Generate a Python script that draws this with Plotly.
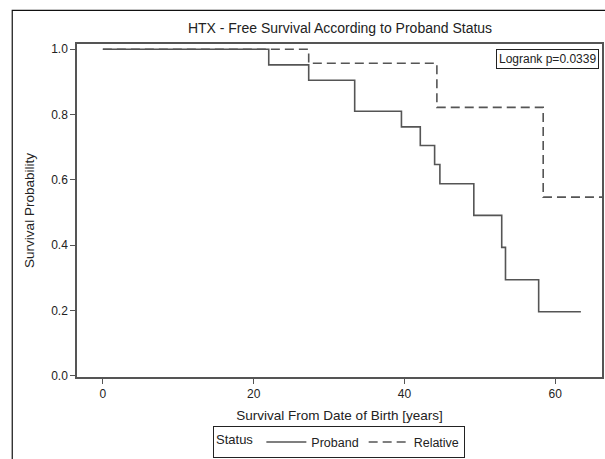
import plotly.graph_objects as go

# Kaplan-Meier step estimates (time in years, survival probability)
proband_time = [0, 22.0, 27.3, 33.4, 39.6, 42.1, 44.0, 44.7, 49.2, 52.9, 53.4, 57.8, 63.4]
proband_surv = [1.0, 0.952, 0.905, 0.810, 0.762, 0.705, 0.647, 0.588, 0.491, 0.393, 0.294, 0.196, 0.196]

relative_time = [0, 27.3, 44.3, 58.4, 66.2]
relative_surv = [1.0, 0.957, 0.822, 0.547, 0.547]

title_text = "HTX - Free Survival According to Proband Status"
x_title = "Survival From Date of Birth [years]"
y_title = "Survival Probability"
x_ticks = [0, 20, 40, 60]
y_ticks = [0.0, 0.2, 0.4, 0.6, 0.8, 1.0]
logrank_text = "Logrank p=0.0339"

FONT = "Liberation Sans, Arial, sans-serif"
TXT = "#222222"
LINE = "#555555"

fig = go.Figure()
fig.add_trace(go.Scatter(
    x=proband_time, y=proband_surv, mode="lines", name="Proband",
    line=dict(shape="hv", color=LINE, width=1.6),
))
fig.add_trace(go.Scatter(
    x=relative_time, y=relative_surv, mode="lines", name="Relative",
    line=dict(shape="hv", color=LINE, width=1.6, dash="9px,5px"),
))

W, H = 605, 459
L, R, T, B = 77, 1, 44, 78
pw, ph = W - L - R, H - T - B

def px_to_paper_x(px):
    return (px - L) / pw

def px_to_paper_y(py):
    return (H - B - py) / ph

fig.update_layout(
    width=W, height=H,
    margin=dict(l=L, r=R, t=T, b=B, pad=0),
    paper_bgcolor="white", plot_bgcolor="white",
    font=dict(family=FONT, color=TXT, size=12),
    title=dict(text=title_text, x=340 / W, xanchor="center",
               y=1 - 28 / H, yanchor="middle", font=dict(size=14, color=TXT)),
    xaxis=dict(
        range=[-3.43, 66.2], tickvals=x_ticks, ticks="outside", ticklen=5,
        tickcolor=LINE, showline=True, linecolor=LINE, linewidth=1.5, mirror=True,
        showgrid=False, zeroline=False,
        title=dict(text=x_title, font=dict(size=13.5), standoff=10),
        tickfont=dict(size=12),
    ),
    yaxis=dict(
        range=[-0.004, 1.016], tickvals=y_ticks, tickformat=".1f", ticks="outside", ticklen=5,
        tickcolor=LINE, showline=True, linecolor=LINE, linewidth=1.5, mirror=True,
        showgrid=False, zeroline=False,
        title=dict(text=y_title, font=dict(size=13.5), standoff=13),
        tickfont=dict(size=12),
    ),
    legend=dict(
        orientation="h", x=px_to_paper_x(340), xanchor="center",
        y=px_to_paper_y(431), yanchor="top",
        title=dict(text="Status", font=dict(size=13)),
        bordercolor="#222222", borderwidth=1, font=dict(size=12.5),
        itemwidth=40, tracegroupgap=0,
    ),
    showlegend=True,
)

# Inset log-rank annotation
fig.add_annotation(
    text=logrank_text, xref="paper", yref="paper",
    x=px_to_paper_x(601), y=px_to_paper_y(49), xanchor="right", yanchor="top",
    showarrow=False, font=dict(size=12, color=TXT),
    bordercolor="#222222", borderwidth=1, borderpad=2, bgcolor="white",
)

# Outer graph frame
fig.add_shape(
    type="rect", xref="paper", yref="paper",
    x0=px_to_paper_x(12), x1=px_to_paper_x(620),
    y0=px_to_paper_y(480), y1=px_to_paper_y(10),
    line=dict(color="#111111", width=1.2), fillcolor="rgba(0,0,0,0)", layer="below",
)

fig.write_html("out.html")
